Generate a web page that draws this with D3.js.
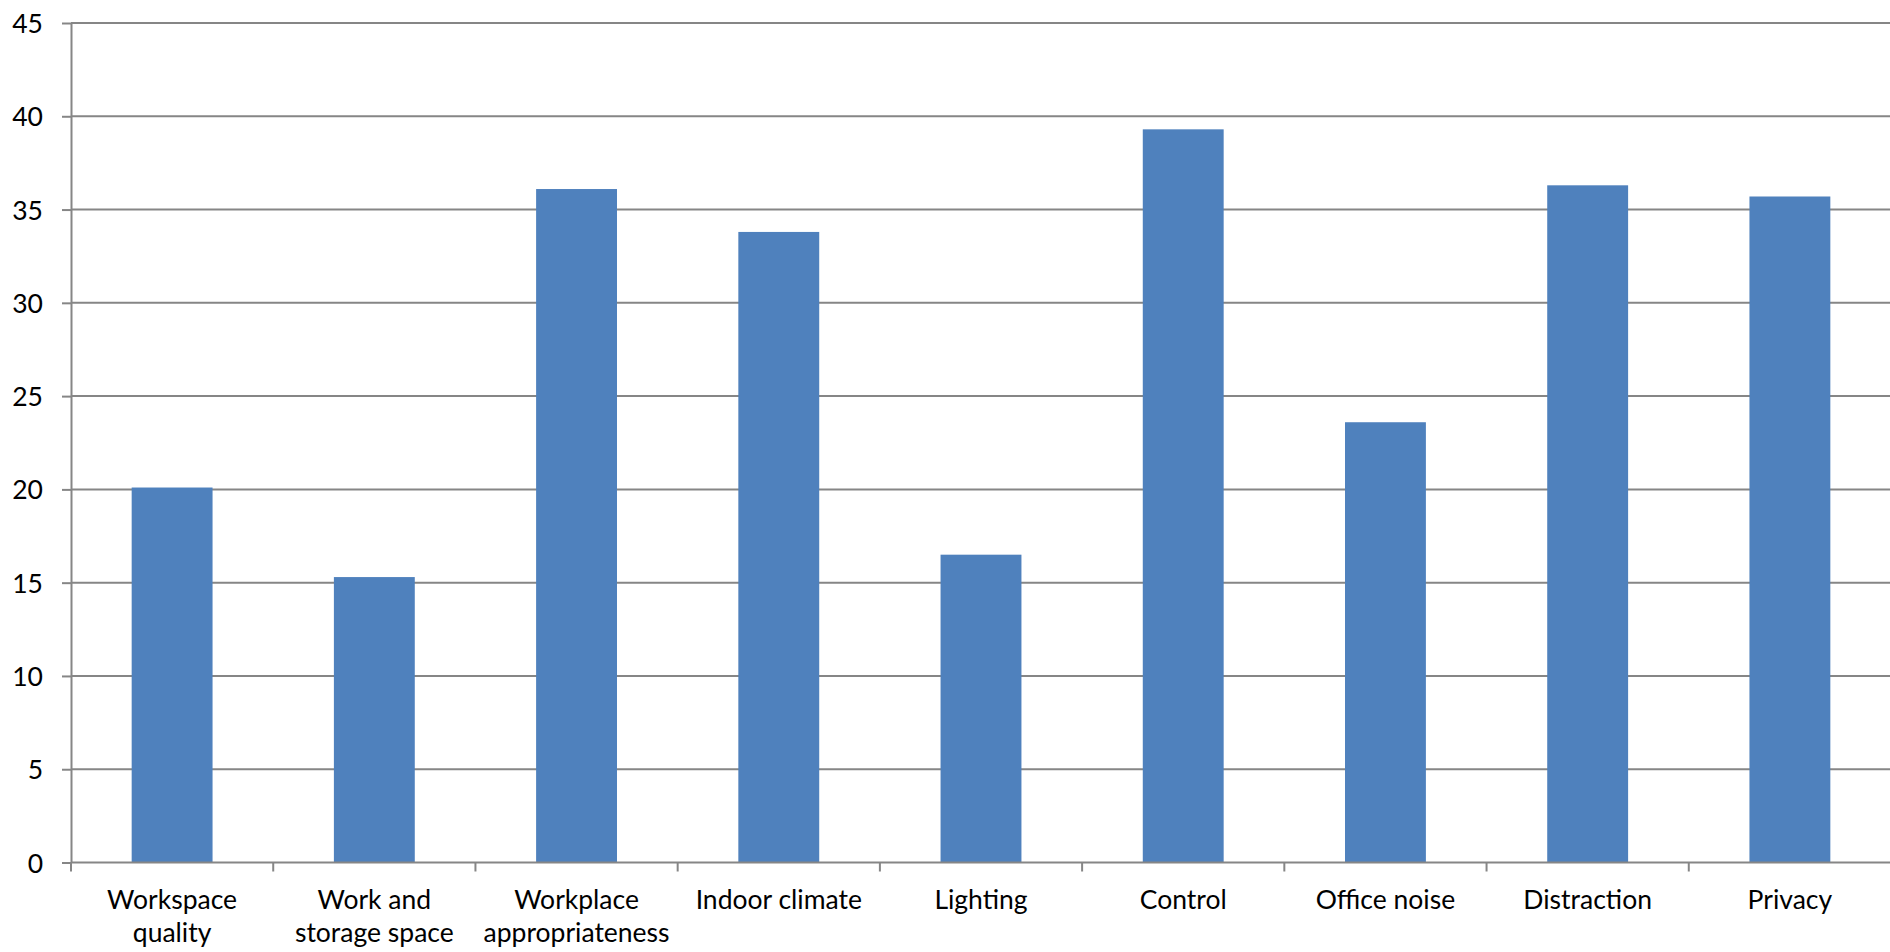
<!DOCTYPE html>
<html>
<head>
<meta charset="utf-8">
<script src="https://cdn.jsdelivr.net/npm/d3@7"></script>
<style>
  html, body { margin: 0; padding: 0; background: #ffffff; }
  svg { display: block; }
  text { font-family: Lato, "Open Sans", sans-serif; fill: #000; }
</style>
</head>
<body>
<svg id="chart" width="1890" height="952"></svg>
<script>
// Survey factors and their scores
const categories = [
  "Workspace quality",
  "Work and storage space",
  "Workplace appropriateness",
  "Indoor climate",
  "Lighting",
  "Control",
  "Office noise",
  "Distraction",
  "Privacy"
];
// Label text broken into lines as displayed under each bar
const categoryLines = [
  ["Workspace", "quality"],
  ["Work and", "storage space"],
  ["Workplace", "appropriateness"],
  ["Indoor climate"],
  ["Lighting"],
  ["Control"],
  ["Office noise"],
  ["Distraction"],
  ["Privacy"]
];
const values = [20.1, 15.3, 36.1, 33.8, 16.5, 39.3, 23.6, 36.3, 35.7];
const yTicks = [0, 5, 10, 15, 20, 25, 30, 35, 40, 45];

const svg = d3.select("#chart");
const plotLeft = 71, plotRight = 1891, plotTop = 23, plotBottom = 862.5;
const gridColor = "#868686";
const barColor = "#4f81bd";
const fontSize = 26.5;

const x = d3.scaleBand()
  .domain(categories)
  .range([plotLeft, plotRight])
  .paddingInner(0.6)
  .paddingOuter(0.3);

const y = d3.scaleLinear()
  .domain([0, 45])
  .range([plotBottom, plotTop]);

// Horizontal gridlines
svg.append("g")
  .selectAll("line")
  .data(yTicks.filter(d => d > 0))
  .join("line")
  .attr("x1", plotLeft)
  .attr("x2", 1890)
  .attr("y1", d => y(d))
  .attr("y2", d => y(d))
  .attr("stroke", gridColor)
  .attr("stroke-width", 2);

// Bars
svg.append("g")
  .selectAll("rect")
  .data(values)
  .join("rect")
  .attr("x", (d, i) => x(categories[i]))
  .attr("y", d => y(d))
  .attr("width", x.bandwidth())
  .attr("height", d => y(0) - y(d))
  .attr("fill", barColor);

// Y axis
const yAxis = svg.append("g")
  .attr("transform", `translate(${plotLeft},0)`)
  .call(d3.axisLeft(y).tickValues(yTicks).tickSize(9).tickPadding(19).tickSizeOuter(0));
yAxis.select(".domain").attr("stroke", gridColor).attr("stroke-width", 2);
yAxis.selectAll(".tick line").attr("stroke", gridColor).attr("stroke-width", 2);
yAxis.selectAll(".tick text")
  .attr("font-size", fontSize)
  .attr("font-family", "Lato, 'Open Sans', sans-serif")
  .attr("fill", "#000")
  .attr("dy", "0.36em");

// X axis: ticks fall on band boundaries
const boundaries = categories.map((c, i) => i === 0 ? plotLeft : x(c) - x.step() * x.paddingInner() / 2);
const xg = svg.append("g");
xg.append("line")
  .attr("x1", plotLeft).attr("x2", 1890)
  .attr("y1", plotBottom).attr("y2", plotBottom)
  .attr("stroke", gridColor).attr("stroke-width", 2);
xg.selectAll("line.tick")
  .data(boundaries)
  .join("line")
  .attr("class", "tick")
  .attr("x1", d => d).attr("x2", d => d)
  .attr("y1", plotBottom).attr("y2", plotBottom + 9)
  .attr("stroke", gridColor).attr("stroke-width", 2);

// Category labels
const labels = xg.selectAll("text.cat")
  .data(categories)
  .join("text")
  .attr("class", "cat")
  .attr("text-anchor", "middle")
  .attr("font-size", fontSize)
  .attr("x", d => x(d) + x.bandwidth() / 2)
  .attr("y", plotBottom + 46.5);
labels.selectAll("tspan")
  .data((d, i) => categoryLines[i])
  .join("tspan")
  .attr("x", function () { return d3.select(this.parentNode).attr("x"); })
  .attr("dy", (d, i) => i === 0 ? 0 : 33)
  .text(d => d);
</script>
</body>
</html>
